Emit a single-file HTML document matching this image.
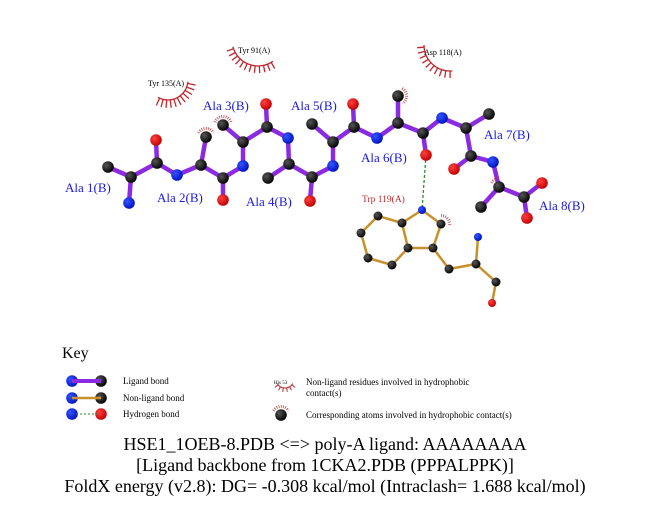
<!DOCTYPE html>
<html><head><meta charset="utf-8"><style>
html,body{margin:0;padding:0;background:#fff;width:651px;height:511px;overflow:hidden}
svg{display:block}
text{font-family:"Liberation Serif",serif}
</style></head><body>
<svg width="651" height="511" viewBox="0 0 651 511" xmlns="http://www.w3.org/2000/svg">
<defs>
<radialGradient id="gk" cx="0.35" cy="0.35" r="0.7"><stop offset="0" stop-color="#555"/><stop offset="1" stop-color="#000"/></radialGradient>
<radialGradient id="gb" cx="0.35" cy="0.35" r="0.7"><stop offset="0" stop-color="#3355ff"/><stop offset="1" stop-color="#0010c0"/></radialGradient>
<radialGradient id="gr" cx="0.35" cy="0.35" r="0.7"><stop offset="0" stop-color="#ff4040"/><stop offset="1" stop-color="#c00000"/></radialGradient>
</defs>
<g stroke="#c0282c" stroke-width="1.3" fill="none">
<path d="M272.9,61.3 A26,26 0 0 1 232.9,46.7"/>
<path d="M271.2,62.4L274.7,68.5M267.4,64.2L270,70.8M263.5,65.4L264.9,72.3M259.3,66L259.7,73M255.2,65.8L254.4,72.8M251.1,65.1L249.2,71.8M247.2,63.6L244.3,70M243.5,61.6L239.7,67.4M240.3,59L235.5,64.2M237.5,56L232,60.3M235.2,52.5L229.1,55.9M233.5,48.7L226.9,51.1"/>
<path d="M187.9,81.7 A20,20 0 0 1 158,97.3"/>
<path d="M187.7,83.5L195.6,85M186.7,87.1L194.2,89.9M185.1,90.3L192,94.5M183,93.3L188.9,98.6M180.3,95.8L185.2,102.1M177.2,97.7L180.9,104.8M173.8,99.1L176.2,106.8M170.3,99.9L171.2,107.8M166.6,100L166.1,107.9M163.1,99.4L161.1,107.1M159.6,98.2L156.3,105.4"/>
<path d="M452.3,70.9 A26,26 0 0 1 424,45"/>
<path d="M450.1,71L450.1,78M445.8,70.7L444.7,77.6M441.7,69.6L439.4,76.3M437.7,67.9L434.4,74.1M434.1,65.5L429.8,71.1M430.9,62.7L425.8,67.4M428.3,59.3L422.4,63.1M426.2,55.5L419.8,58.3M424.8,51.4L418,53.1M424.1,47.2L417.1,47.7"/>
</g>
<g stroke="#c0282c" stroke-width="1" fill="none" transform="translate(0,4)">
<path d="M292.8,379.5 A9,9 0 0 1 277.2,379.5"/>
<path d="M291.9,380.8L295,383.4M289.5,382.8L291.5,386.3M286.6,383.9L287.3,387.8M283.4,383.9L282.7,387.8M280.5,382.8L278.5,386.3M278.1,380.8L275,383.4"/>
</g>
<g font-size="8" fill="#000">
<text x="148" y="86">Tyr 135(A)</text>
<text x="238" y="53">Tyr 91(A)</text>
<text x="424" y="55">Asp 118(A)</text>
</g>
<g stroke="#8a2be2" stroke-width="4.5" stroke-linecap="round" fill="none">
<polyline points="108,167 131,177 157,163 177,175 201,165 223,178 243,166 243,142 267,127 288,138 289,164 312,177 333,166 333,142 354,127 377,138 398,123 423,133 442,118 466,128 471,156 493,162 499,187 524,197"/>
<line x1="131" y1="177" x2="129" y2="203"/><line x1="157" y1="163" x2="156" y2="140"/>
<line x1="201" y1="165" x2="206" y2="137"/><line x1="223" y1="178" x2="223" y2="200"/>
<line x1="243" y1="142" x2="223" y2="125"/><line x1="267" y1="127" x2="266" y2="104"/>
<line x1="289" y1="164" x2="268" y2="178"/><line x1="312" y1="177" x2="310" y2="201"/>
<line x1="333" y1="142" x2="312" y2="124"/><line x1="354" y1="127" x2="353" y2="104"/>
<line x1="398" y1="123" x2="398" y2="96"/><line x1="423" y1="133" x2="426" y2="155"/>
<line x1="466" y1="128" x2="489" y2="114"/><line x1="471" y1="156" x2="454" y2="169"/>
<line x1="499" y1="187" x2="481" y2="207"/><line x1="524" y1="197" x2="542" y2="183"/>
<line x1="524" y1="197" x2="527" y2="218"/>
</g>
<g stroke="#c8902a" stroke-width="2.5" fill="none" stroke-linejoin="round">
<polygon points="422,210 441,224 433,248 408,248 402,223"/>
<polyline points="402,223 378,216 361,233 368,258 392,265 408,248"/>
<polyline points="433,248 449,269 476,264 496,282 492,303"/>
<line x1="476" y1="264" x2="478" y2="237"/>
</g>
<line x1="426" y1="155" x2="422" y2="210" stroke="#2a8a2a" stroke-width="1.3" stroke-dasharray="3,2"/>
<g stroke="#c0282c" stroke-width="3" fill="none" stroke-dasharray="0.7,1.5">
<path d="M198.6,132.75 A8.5,8.5 0 0 1 213.4,132.75"/>
<path d="M215,122.1 A8.5,8.5 0 0 1 231,122.1"/>
<path d="M402.25,88.6 A8.5,8.5 0 0 1 402.25,103.4"/>
<path d="M441,215.5 A8.5,8.5 0 0 1 449.4,225.5"/>
<path d="M491.6,182.75 A8.5,8.5 0 0 1 499,178.5"/>
<path d="M273.6,410.75 A8.5,8.5 0 0 1 288.4,410.75"/>
</g>
<g fill="url(#gk)">
<circle cx="108" cy="167" r="5.8"/><circle cx="131" cy="177" r="5.8"/><circle cx="157" cy="163" r="5.8"/>
<circle cx="201" cy="165" r="5.8"/><circle cx="206" cy="137" r="5.8"/><circle cx="223" cy="178" r="5.8"/>
<circle cx="243" cy="142" r="5.8"/><circle cx="223" cy="125" r="5.8"/><circle cx="267" cy="127" r="5.8"/>
<circle cx="289" cy="164" r="5.8"/><circle cx="268" cy="178" r="5.8"/><circle cx="312" cy="177" r="5.8"/>
<circle cx="333" cy="142" r="5.8"/><circle cx="312" cy="124" r="5.8"/><circle cx="354" cy="127" r="5.8"/>
<circle cx="398" cy="123" r="5.8"/><circle cx="398" cy="96" r="5.8"/><circle cx="423" cy="133" r="5.8"/>
<circle cx="466" cy="128" r="5.8"/><circle cx="489" cy="114" r="5.8"/><circle cx="471" cy="156" r="5.8"/>
<circle cx="499" cy="187" r="5.8"/><circle cx="481" cy="207" r="5.8"/><circle cx="524" cy="197" r="5.8"/>
<circle cx="101" cy="381" r="5.8"/><circle cx="101" cy="398" r="5.8"/><circle cx="281" cy="415" r="5.8"/>
<circle cx="441" cy="224" r="4.5"/><circle cx="433" cy="248" r="4.5"/><circle cx="408" cy="248" r="4.5"/>
<circle cx="402" cy="223" r="4.5"/><circle cx="378" cy="216" r="4.5"/><circle cx="361" cy="233" r="4.5"/>
<circle cx="368" cy="258" r="4.5"/><circle cx="392" cy="265" r="4.5"/><circle cx="449" cy="269" r="4.5"/>
<circle cx="476" cy="264" r="4.5"/><circle cx="496" cy="282" r="4.5"/>
</g>
<g fill="url(#gb)">
<circle cx="129" cy="203" r="5.8"/><circle cx="177" cy="175" r="5.8"/><circle cx="243" cy="166" r="5.8"/>
<circle cx="288" cy="138" r="5.8"/><circle cx="333" cy="166" r="5.8"/><circle cx="377" cy="138" r="5.8"/>
<circle cx="442" cy="118" r="5.8"/><circle cx="493" cy="162" r="5.8"/>
<circle cx="72" cy="381" r="5.8"/><circle cx="72" cy="398" r="5.8"/><circle cx="72" cy="414" r="5.8"/>
<circle cx="422" cy="210" r="4"/><circle cx="478" cy="237" r="4"/>
</g>
<g fill="url(#gr)">
<circle cx="156" cy="140" r="5.8"/><circle cx="223" cy="200" r="5.8"/><circle cx="266" cy="104" r="5.8"/>
<circle cx="310" cy="201" r="5.8"/><circle cx="353" cy="104" r="5.8"/><circle cx="426" cy="155" r="5.8"/>
<circle cx="454" cy="169" r="5.8"/><circle cx="542" cy="183" r="5.8"/><circle cx="527" cy="218" r="5.8"/>
<circle cx="101" cy="414" r="5.8"/><circle cx="492" cy="303" r="4"/>
</g>
<g font-size="13" fill="#1a1ae6">
<text x="65" y="192">Ala 1(B)</text>
<text x="157" y="202">Ala 2(B)</text>
<text x="203" y="110">Ala 3(B)</text>
<text x="246" y="206">Ala 4(B)</text>
<text x="291" y="110">Ala 5(B)</text>
<text x="361" y="162">Ala 6(B)</text>
<text x="484" y="139">Ala 7(B)</text>
<text x="539" y="210">Ala 8(B)</text>
</g>
<text x="362" y="202" font-size="9.5" fill="#c0282c">Trp 119(A)</text>
<text x="62" y="358" font-size="16">Key</text>
<line x1="72" y1="381" x2="101" y2="381" stroke="#8a2be2" stroke-width="4"/>
<line x1="72" y1="398" x2="101" y2="398" stroke="#c8902a" stroke-width="2.5"/>
<line x1="76" y1="414" x2="97" y2="414" stroke="#2a8a2a" stroke-width="1" stroke-dasharray="2,2"/>
<g font-size="9" fill="#000">
<text x="123" y="384">Ligand bond</text>
<text x="123" y="401">Non-ligand bond</text>
<text x="123" y="417">Hydrogen bond</text>
<text x="306" y="385">Non-ligand residues involved in hydrophobic</text>
<text x="306" y="396">contact(s)</text>
<text x="306" y="418">Corresponding atoms involved in hydrophobic contact(s)</text>
</g>
<text x="274" y="384" font-size="5">His 53</text>
<g font-size="18" fill="#000" text-anchor="middle">
<text x="325" y="450">HSE1_1OEB-8.PDB &lt;=&gt; poly-A ligand: AAAAAAAA</text>
<text x="325" y="471">[Ligand backbone from 1CKA2.PDB (PPPALPPK)]</text>
<text x="325" y="492">FoldX energy (v2.8): DG= -0.308 kcal/mol (Intraclash= 1.688 kcal/mol)</text>
</g>
</svg>
</body></html>
